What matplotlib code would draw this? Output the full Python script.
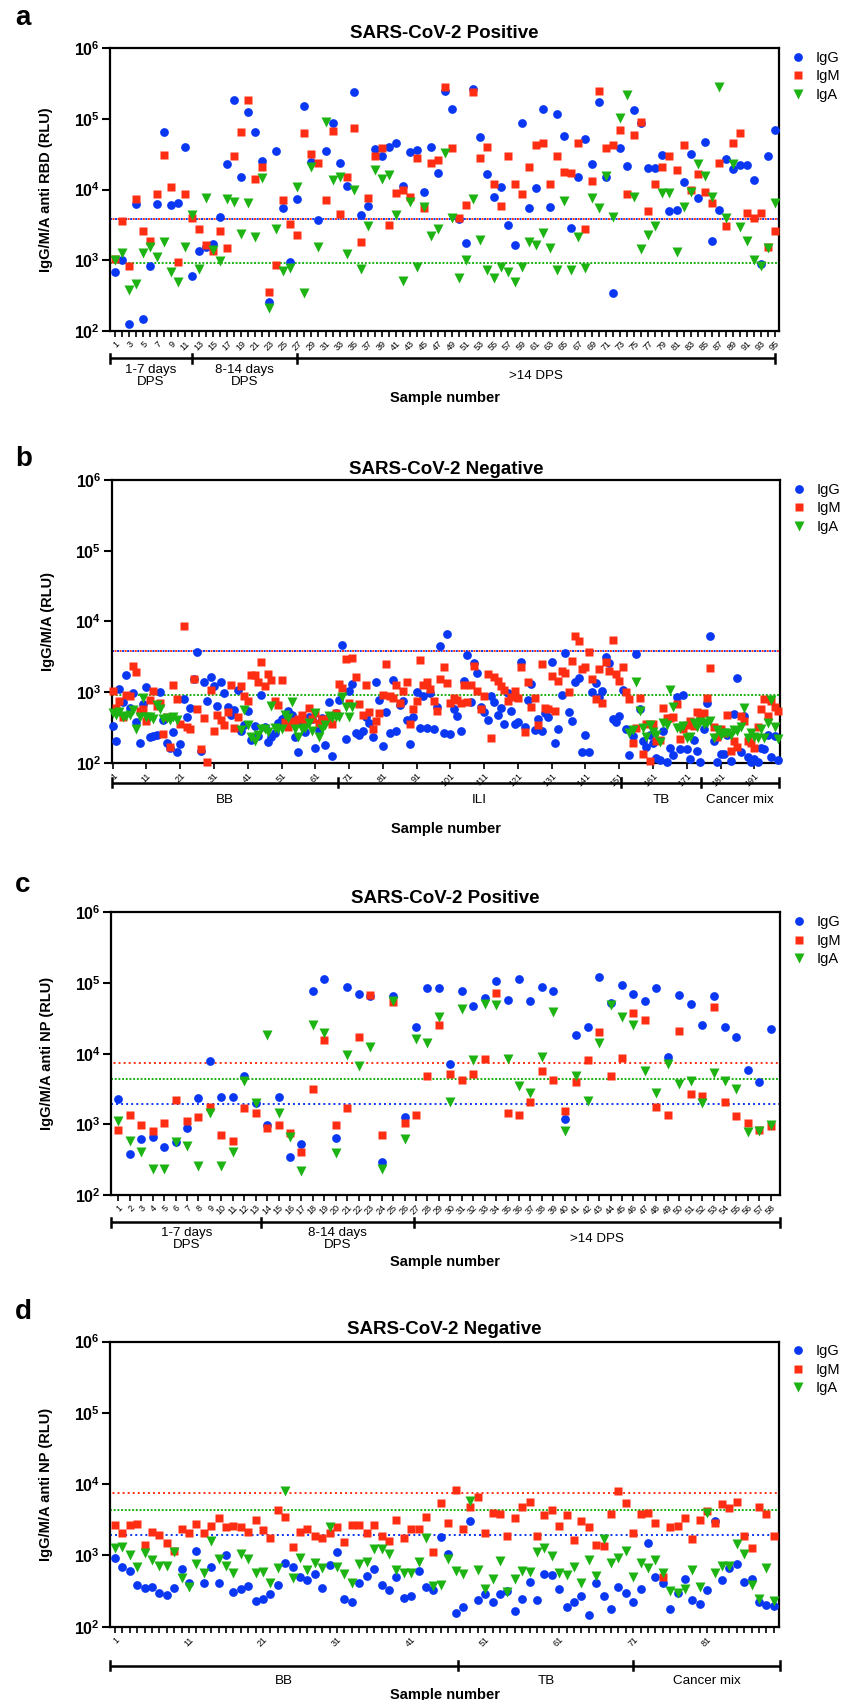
import numpy as np
import matplotlib
matplotlib.use('Agg')
import matplotlib.pyplot as plt

plt.rcParams['font.family'] = ['Liberation Sans', 'DejaVu Sans']

# colours of the three antibody classes
c_igg = '#0A38F2'
c_igm = '#FF2E12'
c_iga = '#1CB313'

# ---- panel a: SARS-CoV-2 positive, anti RBD (RLU) ----
a_igg = [684, 1000, 127, 6300, 150, 840, 6200, 64000, 6100, 6400,
         40000, 600, 1350, 1550, 1680, 4100, 23000, 185000, 15000, 123000,
         64000, 25000, 257, 34500, 5500, 950, 7400, 150000, 24500, 3650,
         35000, 86000, 24000, 11300, 240000, 4350, 5900, 37000, 29500, 40000,
         46000, 11300, 34000, 36000, 9300, 40000, 17000, 250000, 138000, 3850,
         1740, 260000, 55000, 16300, 7900, 11000, 3100, 1620, 86000, 5400,
         10500, 137000, 5600, 117000, 57000, 2850, 14900, 51000, 23000, 170000,
         15000, 345, 38500, 21800, 132000, 86000, 20300, 20300, 31000, 5000,
         5100, 12600, 31500, 7700, 47000, 1860, 5200, 27000, 19600, 22500,
         22500, 13700, 880, 30000, 69000]
a_igm = [1030, 3600, 840, 7400, 2630, 1900, 8700, 31000, 11000, 950,
         8700, 4000, 2800, 1620, 1340, 2630, 1500, 30000, 66000, 182000,
         14200, 21000, 360, 870, 7000, 3300, 2250, 62000, 32000, 24000,
         7000, 67000, 4450, 14800, 74000, 1830, 7600, 29500, 39000, 3150,
         8900, 9700, 7800, 28000, 5400, 24000, 25700, 280000, 38000, 4000,
         6100, 235000, 28000, 40000, 12000, 5900, 30000, 12100, 8500, 20500,
         42000, 46000, 11800, 30000, 17800, 17300, 46000, 2800, 13400, 250000,
         38000, 43000, 70000, 8500, 58000, 91000, 5000, 12000, 21000, 29500,
         18600, 42000, 9700, 16300, 9300, 6500, 24000, 3000, 45000, 63000,
         4600, 4000, 4700, 1530, 2630]
a_iga = [1000, 1260, 380, 460, 1260, 1520, 1120, 1800, 680, 490,
         1520, 4400, 760, 7600, 1400, 980, 7400, 6700, 2350, 6400,
         2100, 14500, 210, 2800, 710, 780, 11000, 340, 21000, 1540,
         91000, 13700, 14900, 1220, 10000, 760, 3050, 19000, 14000, 16000,
         4400, 510, 6700, 810, 5600, 2200, 2800, 32500, 4000, 570,
         1000, 7300, 1950, 730, 570, 810, 690, 500, 810, 1800,
         1650, 2450, 1500, 720, 6900, 740, 2100, 780, 7700, 5500,
         15400, 4150, 101000, 219000, 7900, 1450, 2300, 3000, 8900, 9000,
         1300, 5600, 9300, 23000, 15600, 7800, 280000, 3900, 23000, 2950,
         1880, 1000, 840, 1500, 6400]
a_cutoff = [3850, 3850, 900]          # IgG, IgM, IgA
a_groups = ['1-7 days\nDPS', '8-14 days\nDPS', '>14 DPS']
a_edges = [0.3, 12, 27, 95]

# ---- panel b: SARS-CoV-2 negative, RBD (RLU) ----
b_igg = [333, 205, 1120, 715, 1760, 600, 980, 375, 192, 675,
         1180, 230, 236, 245, 990, 400, 188, 160, 270, 142,
         184, 805, 443, 595, 1520, 3700, 146, 1380, 755, 1610,
         1220, 635, 1380, 980, 605, 467, 555, 1065, 283, 341,
         537, 209, 330, 238, 895, 324, 194, 233, 260, 368,
         410, 448, 532, 473, 233, 143, 360, 275, 448, 420,
         160, 290, 424, 178, 715, 125, 500, 770, 4700, 218,
         1045, 1310, 260, 244, 283, 437, 360, 228, 1380, 770,
         172, 520, 260, 1480, 283, 645, 740, 400, 184, 448,
         1000, 306, 875, 306, 980, 300, 605, 4450, 260, 6600,
         254, 575, 453, 283, 1440, 3330, 715, 2540, 1870, 620,
         515, 400, 875, 730, 473, 600, 350, 980, 543, 350,
         372, 2640, 323, 770, 1290, 290, 420, 283, 500, 448,
         2680, 188, 296, 910, 3550, 515, 390, 1400, 1580, 143,
         250, 143, 1010, 1330, 860, 1030, 3150, 2600, 410, 372,
         463, 1080, 300, 128, 240, 3400, 570, 200, 165, 250,
         188, 115, 108, 280, 102, 161, 127, 840, 154, 910,
         154, 112, 209, 148, 102, 300, 705, 6200, 200, 102,
         131, 133, 250, 105, 483, 1580, 143, 463, 122, 102,
         112, 102, 160, 154, 245, 122, 238, 109]
b_igm = [1050, 600, 755, 448, 900, 890, 2360, 1910, 545, 580,
         392, 770, 1050, 635, 705, 255, 450, 168, 1270, 805,
         352, 8700, 323, 303, 1520, 580, 156, 433, 102, 1080,
         283, 473, 400, 337, 515, 1270, 313, 443, 1230, 890,
         755, 1760, 1760, 1380, 2680, 1220, 1820, 1480, 740, 650,
         1480, 372, 316, 376, 392, 410, 473, 380, 600, 420,
         500, 360, 410, 392, 430, 355, 500, 1290, 1130, 2960,
         700, 3070, 1630, 675, 467, 1265, 527, 303, 392, 510,
         910, 2500, 875, 822, 1255, 690, 1020, 1380, 350, 575,
         755, 2820, 1255, 1380, 1105, 755, 532, 1520, 2240, 1355,
         690, 815, 770, 690, 1240, 715, 1255, 2350, 1045, 580,
         890, 1790, 223, 1650, 1430, 1230, 1065, 755, 860, 1030,
         822, 2230, 275, 1380, 612, 822, 337, 2520, 600, 580,
         1680, 532, 1430, 2000, 1870, 1000, 2780, 6300, 5340, 2140,
         2280, 3700, 1540, 805, 2140, 690, 2690, 2000, 5500, 1790,
         1410, 2280, 1000, 790, 188, 312, 822, 133, 350, 105,
         350, 205, 209, 600, 424, 424, 440, 668, 214, 303,
         337, 392, 330, 515, 440, 500, 830, 2180, 323, 233,
         296, 260, 477, 146, 205, 168, 463, 392, 205, 192,
         163, 323, 570, 795, 463, 755, 620, 543]
nan = np.nan
b_iga = ([510, 478, 515, 448, 458, 473, 550, 296, 438, 810,
          448, 438, 420, 655, 580, 420, 430, 400, 443, 398]
         + [nan] * 18
         + [290, 555, 340, 233, 205, 244, 303, 300, 270, 630, 310, 303,
            303, 473, 424, 720, 296, 233, 303, 306, 360, 280,
            500, 233, 303, 340, 458, 430, 440, 443, 860, 620,
            450, 620]
         + [nan] * 81
         + [260, 290, 1380, 543, 306, 233, 345,
            272, 245, 198, 360, 345, 1065, 605, 312, 306, 334,
            220, 233, 360, 323, 376, 350, 360, 384, 226, 290,
            245, 265, 260, 245, 290, 280, 316, 588, 226, 260,
            233, 220, 296, 226, 360, 770, 323, 214])
b_cutoff = [3850, 3850, 900]
b_groups = ['BB', 'ILI', 'TB', 'Cancer mix']
b_edges = [0.7, 67.7, 151.5, 175.2, 198.3]

# ---- panel c: SARS-CoV-2 positive, anti NP (RLU) ----
c_igg_v = [2290, 380, 610, 660, 480, 570, 890, 2360, 7880, 2400,
           2400, 4780, 2030, 970, 2460, 348, 525, 77000, 115000, 650,
           89000, 69000, 65500, 296, 66000, 1290, 24000, 85000, 85000, 7100,
           77000, 46500, 61500, 107000, 57000, 115000, 56000, 86500, 78000, 1180,
           18300, 23500, 123000, 51500, 95000, 69000, 55000, 85000, 9000, 67000,
           50000, 25800, 66000, 23500, 17000, 5900, 4010, 22000]
c_igm_v = [840, 1370, 990, 810, 1055, 2230, 1130, 1290, 1740, 710,
           575, 1720, 1430, 875, 990, 745, 400, 3130, 15800, 990,
           1720, 17300, 68400, 710, 53000, 1055, 1370, 4800, 25500, 5100,
           4270, 5150, 8400, 72000, 1460, 1370, 2090, 5750, 4270, 1560,
           3980, 8150, 20200, 4900, 8700, 37000, 30000, 1760, 1370, 21000,
           2700, 2550, 45500, 2090, 1330, 1055, 840, 960]
c_iga_v = [1130, 590, 400, 236, 230, 555, 500, 257, 1430, 257,
           410, 4050, 2030, 18200, 1460, 660, 218, 25500, 19800, 390,
           9700, 6700, 12300, 233, 56000, 610, 16300, 14000, 33400, 2080,
           43500, 8150, 50000, 49000, 8400, 3530, 2740, 9040, 38500, 795,
           4800, 2160, 14000, 48500, 32500, 25500, 5600, 2740, 7100, 3710,
           4100, 2030, 5270, 4100, 3130, 770, 810, 990]
c_cutoff = [1950, 7400, 4400]
c_groups = ['1-7 days\nDPS', '8-14 days\nDPS', '>14 DPS']
c_edges = [0.36, 13.5, 26.8, 58.8]

# ---- panel d: SARS-CoV-2 negative, anti NP (RLU) ----
d_igg = [910, 697, 597, 380, 352, 363, 293, 277, 352, 645,
         415, 1170, 415, 697, 407, 1015, 302, 338, 367, 232,
         245, 288, 380, 775, 680, 490, 445, 550, 352, 745,
         1100, 242, 224, 415, 507, 640, 385, 327, 490, 250,
         271, 604, 363, 327, 1840, 1040, 154, 191, 2990, 237,
         284, 224, 284, 318, 166, 244, 428, 237, 547, 537,
         340, 187, 219, 270, 146, 405, 270, 175, 365, 294,
         222, 342, 1480, 502, 405, 179, 294, 465, 237, 206,
         327, 3080, 453, 667, 751, 429, 462, 221, 200, 195]
d_igm = [2710, 2030, 2710, 2800, 1400, 2160, 1960, 1480, 1170, 2330,
         2030, 2800, 2030, 2620, 3380, 2540, 2620, 2540, 2160, 3180,
         2250, 1780, 4270, 3510, 1330, 2160, 2330, 1900, 1730, 2090,
         2540, 1550, 2710, 2710, 2030, 2710, 1900, 1610, 3090, 1780,
         2380, 2380, 3510, 1130, 5350, 2890, 8300, 2310, 4850, 6500,
         2030, 3870, 3750, 1900, 3300, 4850, 5700, 1900, 3630, 4400,
         2620, 3630, 1620, 2990, 2520, 1410, 1375, 3750, 7880, 5500,
         2030, 3750, 3960, 2890, 490, 2520, 2620, 3300, 1720, 3180,
         4150, 2890, 5180, 4550, 5700, 1900, 1250, 4850, 3750, 1900]
d_iga = [1290, 1330, 1000, 697, 1090, 865, 711, 719, 1120, 480,
         357, 751, 574, 1590, 884, 711, 561, 1050, 890, 561,
         587, 415, 660, 7880, 480, 910, 620, 795, 660, 2540,
         697, 552, 415, 760, 820, 1230, 1230, 1040, 625, 575,
         575, 820, 1780, 372, 385, 900, 604, 552, 5870, 625,
         338, 468, 828, 310, 468, 604, 590, 1120, 1290, 967,
         575, 535, 697, 407, 865, 516, 1690, 770, 910, 1160,
         502, 795, 670, 865, 561, 321, 301, 335, 625, 357,
         3990, 575, 719, 719, 1435, 1050, 385, 242, 660, 232]
d_cutoff = [1950, 7400, 4400]
d_groups = ['BB', 'TB', 'Cancer mix']
d_edges = [0.32, 47.4, 71, 90.8]

W, H = 843, 1700
fig = plt.figure(figsize=(W / 100, H / 100), dpi=100)


def draw_panel(box, igg, igm, iga, cutoff, title, ylabel, groups, edges,
               xlim, major, minor, offs, letter, letter_y):
    left, top, right, bottom = box
    ax = fig.add_axes([left / W, 1 - bottom / H, (right - left) / W, (bottom - top) / H])
    axh = bottom - top
    n = np.arange(1, len(igg) + 1)

    # cut-off lines (dotted), IgG and IgM dots interleave when they coincide
    ax.axhline(cutoff[0], color=c_igg, lw=1.4, ls=(0, (1, 1.6)), zorder=1)
    ax.axhline(cutoff[1], color=c_igm, lw=1.4, ls=(1.3, (1, 1.6)), zorder=1)
    ax.axhline(cutoff[2], color=c_iga, lw=1.4, ls=(0, (1, 0.9)), zorder=1)

    ax.plot(n, igg, 'o', ms=6.3, color=c_igg, mec='none', label='IgG', clip_on=False, zorder=3)
    ax.plot(n, igm, 's', ms=5.8, color=c_igm, mec='none', label='IgM', clip_on=False, zorder=4)
    ax.plot(n, iga, 'v', ms=6.7, color=c_iga, mec='none', label='IgA', clip_on=False, zorder=5)

    ax.set_yscale('log')
    ax.set_ylim(1e2, 1e6)
    ax.set_xlim(*xlim)
    dec = [1e2, 1e3, 1e4, 1e5, 1e6]
    ax.set_yticks(dec, [r'$\mathdefault{10^{%d}}$' % k for k in range(2, 7)],
                  fontweight='bold', fontsize=11.5)
    ax.minorticks_off()
    ax.set_xticks(major, [str(k) for k in major], rotation=45, ha='right',
                  rotation_mode='anchor', fontsize=6.5)
    if minor is not None:
        ax.set_xticks(minor, minor=True)
    ax.tick_params(axis='y', length=5.5, width=1.5, pad=2)
    ax.tick_params(axis='x', which='both', length=4, width=1.2, pad=2)
    for s in ax.spines.values():
        s.set_linewidth(1.6)

    ax.text(0.5, 1 + offs[0] / axh, title, transform=ax.transAxes, ha='center',
            va='center', fontsize=13.5, fontweight='bold')
    ax.set_ylabel(ylabel, fontsize=10.5, fontweight='bold')
    ax.yaxis.set_label_coords(-0.085, 0.5)

    # group brackets under the sample numbers
    tr = ax.get_xaxis_transform()
    yb = -offs[1] / axh
    tk = 4.5 / axh
    ax.plot([edges[0], edges[-1]], [yb, yb], color='k', lw=1.8, transform=tr,
            clip_on=False, solid_capstyle='butt')
    for e in edges:
        ax.plot([e, e], [yb - tk, yb + tk], color='k', lw=1.8, transform=tr, clip_on=False)
    for g, e0, e1 in zip(groups, edges[:-1], edges[1:]):
        ax.text((e0 + e1) / 2, -offs[2] / axh, g, transform=tr, ha='center',
                va='center', fontsize=9.6, linespacing=1.05)
    ax.text(0.5, -offs[3] / axh, 'Sample number', transform=ax.transAxes,
            ha='center', va='center', fontsize=10.5, fontweight='bold')

    ax.legend(loc='upper left', bbox_to_anchor=(1.019, 1 - 3 / axh), borderaxespad=0,
              borderpad=0, frameon=False, fontsize=10.5, handlelength=0.8,
              handletextpad=0.85, labelspacing=0.3)

    fig.text(15 / W, 1 - letter_y / H, letter, fontsize=20, fontweight='bold',
             ha='left', va='center')
    return ax


draw_panel((110, 48, 779, 331), a_igg, a_igm, a_iga, a_cutoff,
           'SARS-CoV-2 Positive', 'IgG/M/A anti RBD (RLU)', a_groups, a_edges,
           (0.3, 95.6), list(range(1, 96, 2)), list(range(2, 96, 2)),
           (15, 27, 45, 67), 'a', 18)
draw_panel((111.7, 480, 780, 762.7), b_igg, b_igm, b_iga, b_cutoff,
           'SARS-CoV-2 Negative', 'IgG/M/A (RLU)', b_groups, b_edges,
           (0.7, 198.6), list(range(1, 199, 10)), None,
           (11, 20, 37, 66), 'b', 459)
draw_panel((111, 912.3, 780, 1195), c_igg_v, c_igm_v, c_iga_v, c_cutoff,
           'SARS-CoV-2 Positive', 'IgG/M/A anti NP (RLU)', c_groups, c_edges,
           (0.36, 58.8), list(range(1, 59)), None,
           (14, 27, 44, 67), 'c', 885)
draw_panel((110, 1341.5, 779, 1626.7), d_igg, d_igm, d_iga, d_cutoff,
           'SARS-CoV-2 Negative', 'IgG/M/A anti NP (RLU)', d_groups, d_edges,
           (0.32, 90.7), list(range(1, 91, 10)), list(range(1, 91)),
           (12, 39, 54, 68), 'd', 1312)

fig.savefig('out.png', dpi=100)
